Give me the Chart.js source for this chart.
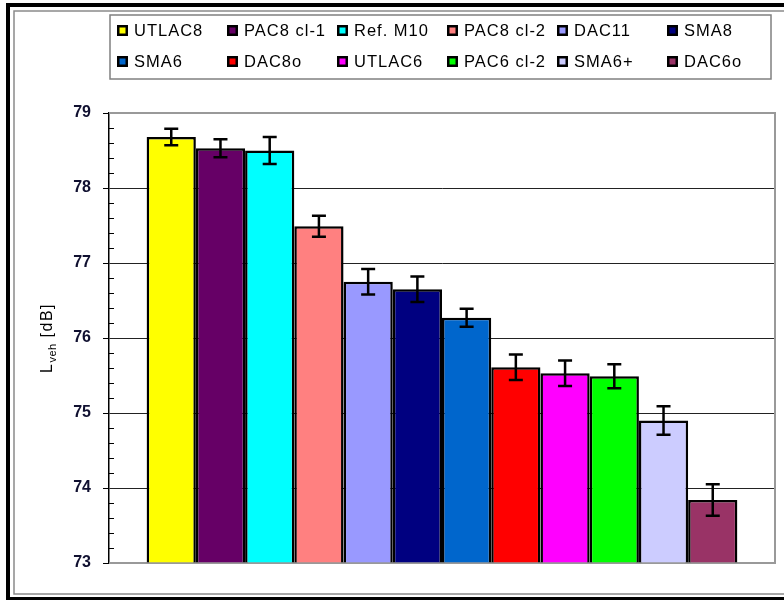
<!DOCTYPE html>
<html>
<head>
<meta charset="utf-8">
<title>Lveh</title>
<script src="https://cdn.jsdelivr.net/npm/chart.js@4.4.1/dist/chart.umd.min.js"></script>
<style>
  html, body { margin: 0; padding: 0; background: #fff; }
  canvas { display: block; }
</style>
</head>
<body>
<canvas id="grafico" width="784" height="600"></canvas>
<script>
// --- DATA ---
const mixes = ['UTLAC8', 'PAC8 cl-1', 'Ref. M10', 'PAC8 cl-2', 'DAC11', 'SMA8',
               'SMA6', 'DAC8o', 'UTLAC6', 'PAC6 cl-2', 'SMA6+', 'DAC6o'];
const lveh = [78.68, 78.53, 78.50, 77.49, 76.75, 76.65, 76.27, 75.61, 75.53, 75.49, 74.90, 73.84];
const erro = [0.11, 0.12, 0.18, 0.14, 0.17, 0.17, 0.12, 0.17, 0.17, 0.16, 0.19, 0.21];
const cores = ['#FFFF00', '#660066', '#00FFFF', '#FF8080', '#9999FF', '#000080',
               '#0066CC', '#FF0000', '#FF00FF', '#00FF00', '#CCCCFF', '#993366'];
const yMin = 73;
const yMax = 79;

const FONTE = '"Liberation Sans", Arial, sans-serif';

// --- PLUGINS ---
// outer frame of the figure + grey border of the plot area
const moldura = {
    id: 'moldura',
    beforeDraw(chart) {
        const c = chart.ctx;
        c.save();
        c.fillStyle = '#fff';
        c.fillRect(0, 0, chart.width, chart.height);
        // thick black frame
        c.fillStyle = '#000';
        c.fillRect(6, 3, chart.width - 6, 4);
        c.fillRect(6, 3, 4, chart.height - 3);
        c.fillRect(6, 597, chart.width - 6, 3);
        // thin grey frame inside
        c.strokeStyle = '#8a8a8a';
        c.lineWidth = 1.5;
        c.beginPath();
        c.moveTo(chart.width, 11); c.lineTo(14, 11); c.lineTo(14, 594); c.lineTo(chart.width, 594);
        c.stroke();
        c.restore();
    },
    beforeDatasetsDraw(chart) {
        const {left, right, top, bottom} = chart.chartArea;
        const c = chart.ctx;
        c.save();
        c.strokeStyle = '#999';
        c.lineWidth = 2;
        c.beginPath();
        c.moveTo(left, top); c.lineTo(right, top); c.lineTo(right, bottom); c.lineTo(left, bottom);
        c.stroke();
        c.restore();
    }
};

// error bars on top of each bar
const barrasErro = {
    id: 'barrasErro',
    afterDatasetsDraw(chart) {
        const y = chart.scales.y;
        const c = chart.ctx;
        c.save();
        c.strokeStyle = '#000';
        c.lineWidth = 2.5;
        chart.data.datasets.forEach((ds, i) => {
            const bar = chart.getDatasetMeta(i).data[0];
            const v = ds.data[0];
            const yTop = y.getPixelForValue(v + erro[i]);
            const yBot = y.getPixelForValue(v - erro[i]);
            c.beginPath();
            c.moveTo(bar.x, yTop); c.lineTo(bar.x, yBot);
            c.moveTo(bar.x - 7, yTop); c.lineTo(bar.x + 7, yTop);
            c.moveTo(bar.x - 7, yBot); c.lineTo(bar.x + 7, yBot);
            c.stroke();
        });
        c.restore();
    }
};

// minor ticks (inside), legend grid and the y axis title with subscript
const extras = {
    id: 'extras',
    afterDraw(chart) {
        const c = chart.ctx;
        const y = chart.scales.y;
        const left = chart.chartArea.left;
        c.save();

        c.strokeStyle = '#000';
        c.lineWidth = 1;
        for (let k = 1; k < (yMax - yMin) * 5; k++) {
            if (k % 5 === 0) continue;
            const py = Math.round(y.getPixelForValue(yMin + k * 0.2)) + 0.5;
            c.beginPath();
            c.moveTo(left, py); c.lineTo(left + 5, py);
            c.stroke();
        }

        // legend box
        c.strokeStyle = '#808080';
        c.lineWidth = 1.5;
        c.strokeRect(110, 15, 661, 64);
        c.font = '16.5px ' + FONTE;
        c.letterSpacing = '1px';
        c.textBaseline = 'alphabetic';
        c.textAlign = 'left';
        chart.data.datasets.forEach((ds, i) => {
            const col = i % 6;
            const row = Math.floor(i / 6);
            const x = 117 + col * 110;
            const yb = 36 + row * 31;
            c.fillStyle = ds.backgroundColor;
            c.fillRect(x, yb - 11, 11, 11);
            c.strokeStyle = '#000';
            c.lineWidth = 2.5;
            c.strokeRect(x + 1.25, yb - 9.75, 8.5, 8.5);
            c.fillStyle = '#000';
            c.fillText(ds.label, x + 17, yb);
        });

        // y title: L_veh [dB]
        c.translate(52, 338);
        c.rotate(-Math.PI / 2);
        c.fillStyle = '#000';
        c.font = '16px ' + FONTE;
        c.letterSpacing = '1.5px';
        const wL = c.measureText('L').width;
        const wD = c.measureText(' [dB]').width;
        c.font = '11px ' + FONTE;
        c.letterSpacing = '0.5px';
        const wS = c.measureText('veh').width;
        let x0 = -(wL + wS + wD) / 2;
        c.font = '16px ' + FONTE;
        c.letterSpacing = '1.5px';
        c.fillText('L', x0, 0);
        c.font = '11px ' + FONTE;
        c.letterSpacing = '0.5px';
        c.fillText('veh', x0 + wL, 4);
        c.font = '16px ' + FONTE;
        c.letterSpacing = '1.5px';
        c.fillText(' [dB]', x0 + wL + wS, 0);
        c.restore();
    }
};

// --- CHART ---
const ctx = document.getElementById('grafico').getContext('2d');
new Chart(ctx, {
    type: 'bar',
    data: {
        labels: [''],
        datasets: mixes.map((m, i) => ({
            label: m,
            data: [lveh[i]],
            backgroundColor: cores[i],
            borderColor: '#000',
            borderWidth: 2.5,
            base: yMin,
            categoryPercentage: 0.887,
            barPercentage: 1
        }))
    },
    options: {
        responsive: false,
        animation: false,
        layout: { padding: { top: 113, right: 9, bottom: 37, left: 0 } },
        plugins: { legend: { display: false }, tooltip: { enabled: false } },
        scales: {
            x: { display: false },
            y: {
                min: yMin,
                max: yMax,
                afterFit: s => { s.width = 109; },
                ticks: {
                    stepSize: 1,
                    padding: 12,
                    color: '#101030',
                    font: { family: FONTE, size: 16, weight: 'bold' }
                },
                grid: {
                    color: c => (c.tick && (c.tick.value === yMin || c.tick.value === yMax)) ? '#999' : '#222',
                    tickColor: '#000',
                    tickLength: 6,
                    lineWidth: 1
                },
                border: { color: '#000', width: 1.5 }
            }
        }
    },
    plugins: [moldura, barrasErro, extras]
});
</script>
</body>
</html>
